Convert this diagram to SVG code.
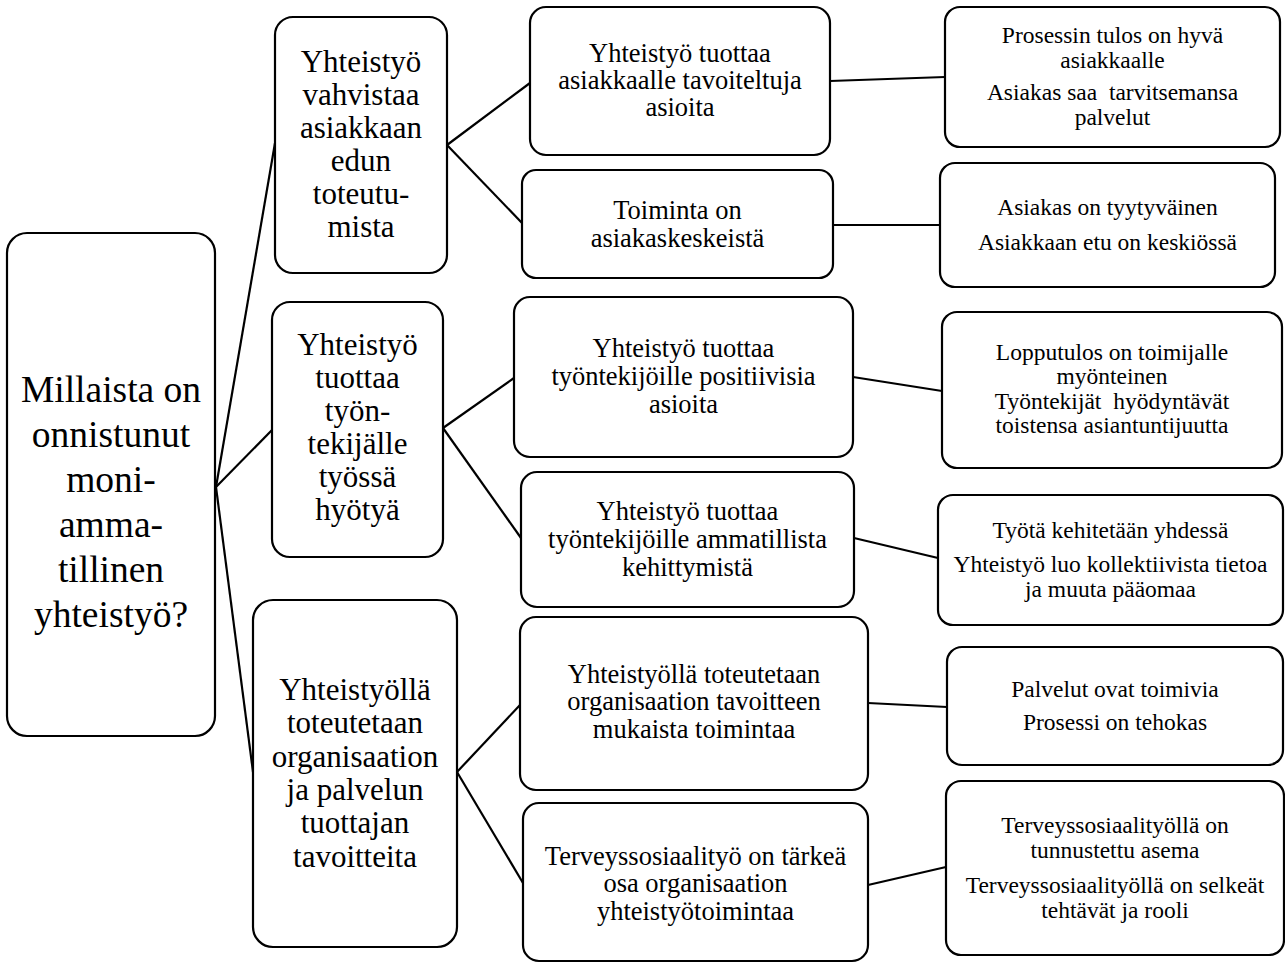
<svg xmlns="http://www.w3.org/2000/svg" width="1285" height="965" viewBox="0 0 1285 965">
<style>
rect.b{fill:#fff;stroke:#000;stroke-width:2.2}
text{fill:#000;text-anchor:middle}
.r{font-size:37.5px}
.l1{font-size:31px}
.l2{font-size:26.5px}
.l3{font-size:23.5px}
#connectors line{stroke:#000;stroke-width:2.2}
</style>
<rect width="1285" height="965" fill="#fff"/>
<g id="connectors">
<line x1="216" y1="487" x2="275" y2="143"/>
<line x1="216" y1="487" x2="272" y2="430"/>
<line x1="216" y1="487" x2="253" y2="772"/>
<line x1="447" y1="145" x2="530" y2="83"/>
<line x1="447" y1="145" x2="522" y2="223"/>
<line x1="443" y1="428" x2="514" y2="378"/>
<line x1="443" y1="428" x2="521" y2="538"/>
<line x1="457" y1="772" x2="520" y2="705"/>
<line x1="457" y1="772" x2="523" y2="883"/>
<line x1="830" y1="81" x2="945" y2="77"/>
<line x1="833" y1="225" x2="940" y2="225"/>
<line x1="853" y1="377" x2="942" y2="391"/>
<line x1="854" y1="538" x2="938" y2="558"/>
<line x1="868" y1="703" x2="947" y2="707"/>
<line x1="868" y1="885" x2="946" y2="867"/>
</g>
<g font-family="'Liberation Serif', 'Times New Roman', Times, serif">
<g id="root">
<rect class="b" x="7" y="233" width="208" height="503" rx="20"/>
<text class="r" font-family="Liberation Serif, serif"><tspan x="111" y="402">Millaista on</tspan><tspan x="111" y="447">onnistunut</tspan><tspan x="111" y="492">moni-</tspan><tspan x="111" y="537">amma-</tspan><tspan x="111" y="582">tillinen</tspan><tspan x="111" y="627">yhteistyö?</tspan></text>
</g>
<g id="n1">
<rect class="b" x="275" y="17" width="172" height="256" rx="18"/>
<text class="l1" font-family="Liberation Serif, serif"><tspan x="361" y="72">Yhteistyö</tspan><tspan x="361" y="105">vahvistaa</tspan><tspan x="361" y="138">asiakkaan</tspan><tspan x="361" y="171">edun</tspan><tspan x="361" y="204">toteutu-</tspan><tspan x="361" y="237">mista</tspan></text>
</g>
<g id="n2">
<rect class="b" x="272" y="302" width="171" height="255" rx="18"/>
<text class="l1" font-family="Liberation Serif, serif"><tspan x="357.5" y="355">Yhteistyö</tspan><tspan x="357.5" y="388">tuottaa</tspan><tspan x="357.5" y="421">työn-</tspan><tspan x="357.5" y="454">tekijälle</tspan><tspan x="357.5" y="487">työssä</tspan><tspan x="357.5" y="520">hyötyä</tspan></text>
</g>
<g id="n3">
<rect class="b" x="253" y="600" width="204" height="347" rx="20"/>
<text class="l1" font-family="Liberation Serif, serif"><tspan x="355" y="700">Yhteistyöllä</tspan><tspan x="355" y="733">toteutetaan</tspan><tspan x="355" y="767">organisaation</tspan><tspan x="355" y="800">ja palvelun</tspan><tspan x="355" y="833">tuottajan</tspan><tspan x="355" y="867">tavoitteita</tspan></text>
</g>
<g id="n1a">
<rect class="b" x="530" y="7" width="300" height="148" rx="16"/>
<text class="l2" font-family="Liberation Serif, serif"><tspan x="680" y="62">Yhteistyö tuottaa</tspan><tspan x="680" y="89">asiakkaalle tavoiteltuja</tspan><tspan x="680" y="116">asioita</tspan></text>
</g>
<g id="n1b">
<rect class="b" x="522" y="170" width="311" height="108" rx="14"/>
<text class="l2" font-family="Liberation Serif, serif"><tspan x="677.5" y="219">Toiminta on</tspan><tspan x="677.5" y="247">asiakaskeskeistä</tspan></text>
</g>
<g id="n2a">
<rect class="b" x="514" y="297" width="339" height="160" rx="16"/>
<text class="l2" font-family="Liberation Serif, serif"><tspan x="683.5" y="357">Yhteistyö tuottaa</tspan><tspan x="683.5" y="385">työntekijöille positiivisia</tspan><tspan x="683.5" y="413">asioita</tspan></text>
</g>
<g id="n2b">
<rect class="b" x="521" y="472" width="333" height="135" rx="16"/>
<text class="l2" font-family="Liberation Serif, serif"><tspan x="687.5" y="520">Yhteistyö tuottaa</tspan><tspan x="687.5" y="548">työntekijöille ammatillista</tspan><tspan x="687.5" y="576">kehittymistä</tspan></text>
</g>
<g id="n3a">
<rect class="b" x="520" y="617" width="348" height="173" rx="16"/>
<text class="l2" font-family="Liberation Serif, serif"><tspan x="694" y="683">Yhteistyöllä toteutetaan</tspan><tspan x="694" y="710">organisaation tavoitteen</tspan><tspan x="694" y="738">mukaista toimintaa</tspan></text>
</g>
<g id="n3b">
<rect class="b" x="523" y="803" width="345" height="158" rx="16"/>
<text class="l2" font-family="Liberation Serif, serif"><tspan x="695.5" y="865">Terveyssosiaalityö on tärkeä</tspan><tspan x="695.5" y="892">osa organisaation</tspan><tspan x="695.5" y="920">yhteistyötoimintaa</tspan></text>
</g>
<g id="o1a">
<rect class="b" x="945" y="7" width="335" height="140" rx="15"/>
<text class="l3" font-family="Liberation Serif, serif"><tspan x="1112.5" y="43">Prosessin tulos on hyvä</tspan><tspan x="1112.5" y="68">asiakkaalle</tspan><tspan x="1112.5" y="100" xml:space="preserve">Asiakas saa  tarvitsemansa</tspan><tspan x="1112.5" y="125">palvelut</tspan></text>
</g>
<g id="o1b">
<rect class="b" x="940" y="163" width="335" height="124" rx="15"/>
<text class="l3" font-family="Liberation Serif, serif"><tspan x="1107.5" y="215">Asiakas on tyytyväinen</tspan><tspan x="1107.5" y="250">Asiakkaan etu on keskiössä</tspan></text>
</g>
<g id="o2a">
<rect class="b" x="942" y="312" width="340" height="156" rx="15"/>
<text class="l3" font-family="Liberation Serif, serif"><tspan x="1112" y="360">Lopputulos on toimijalle</tspan><tspan x="1112" y="384">myönteinen</tspan><tspan x="1112" y="409" xml:space="preserve">Työntekijät  hyödyntävät</tspan><tspan x="1112" y="433">toistensa asiantuntijuutta</tspan></text>
</g>
<g id="o2b">
<rect class="b" x="938" y="495" width="345" height="130" rx="15"/>
<text class="l3" font-family="Liberation Serif, serif"><tspan x="1110.5" y="538">Työtä kehitetään yhdessä</tspan><tspan x="1110.5" y="572">Yhteistyö luo kollektiivista tietoa</tspan><tspan x="1110.5" y="597">ja muuta pääomaa</tspan></text>
</g>
<g id="o3a">
<rect class="b" x="947" y="647" width="336" height="118" rx="15"/>
<text class="l3" font-family="Liberation Serif, serif"><tspan x="1115" y="697">Palvelut ovat toimivia</tspan><tspan x="1115" y="730">Prosessi on tehokas</tspan></text>
</g>
<g id="o3b">
<rect class="b" x="946" y="781" width="338" height="174" rx="15"/>
<text class="l3" font-family="Liberation Serif, serif"><tspan x="1115" y="833">Terveyssosiaalityöllä on</tspan><tspan x="1115" y="858">tunnustettu asema</tspan><tspan x="1115" y="893">Terveyssosiaalityöllä on selkeät</tspan><tspan x="1115" y="918">tehtävät ja rooli</tspan></text>
</g>
</g>
</svg>
